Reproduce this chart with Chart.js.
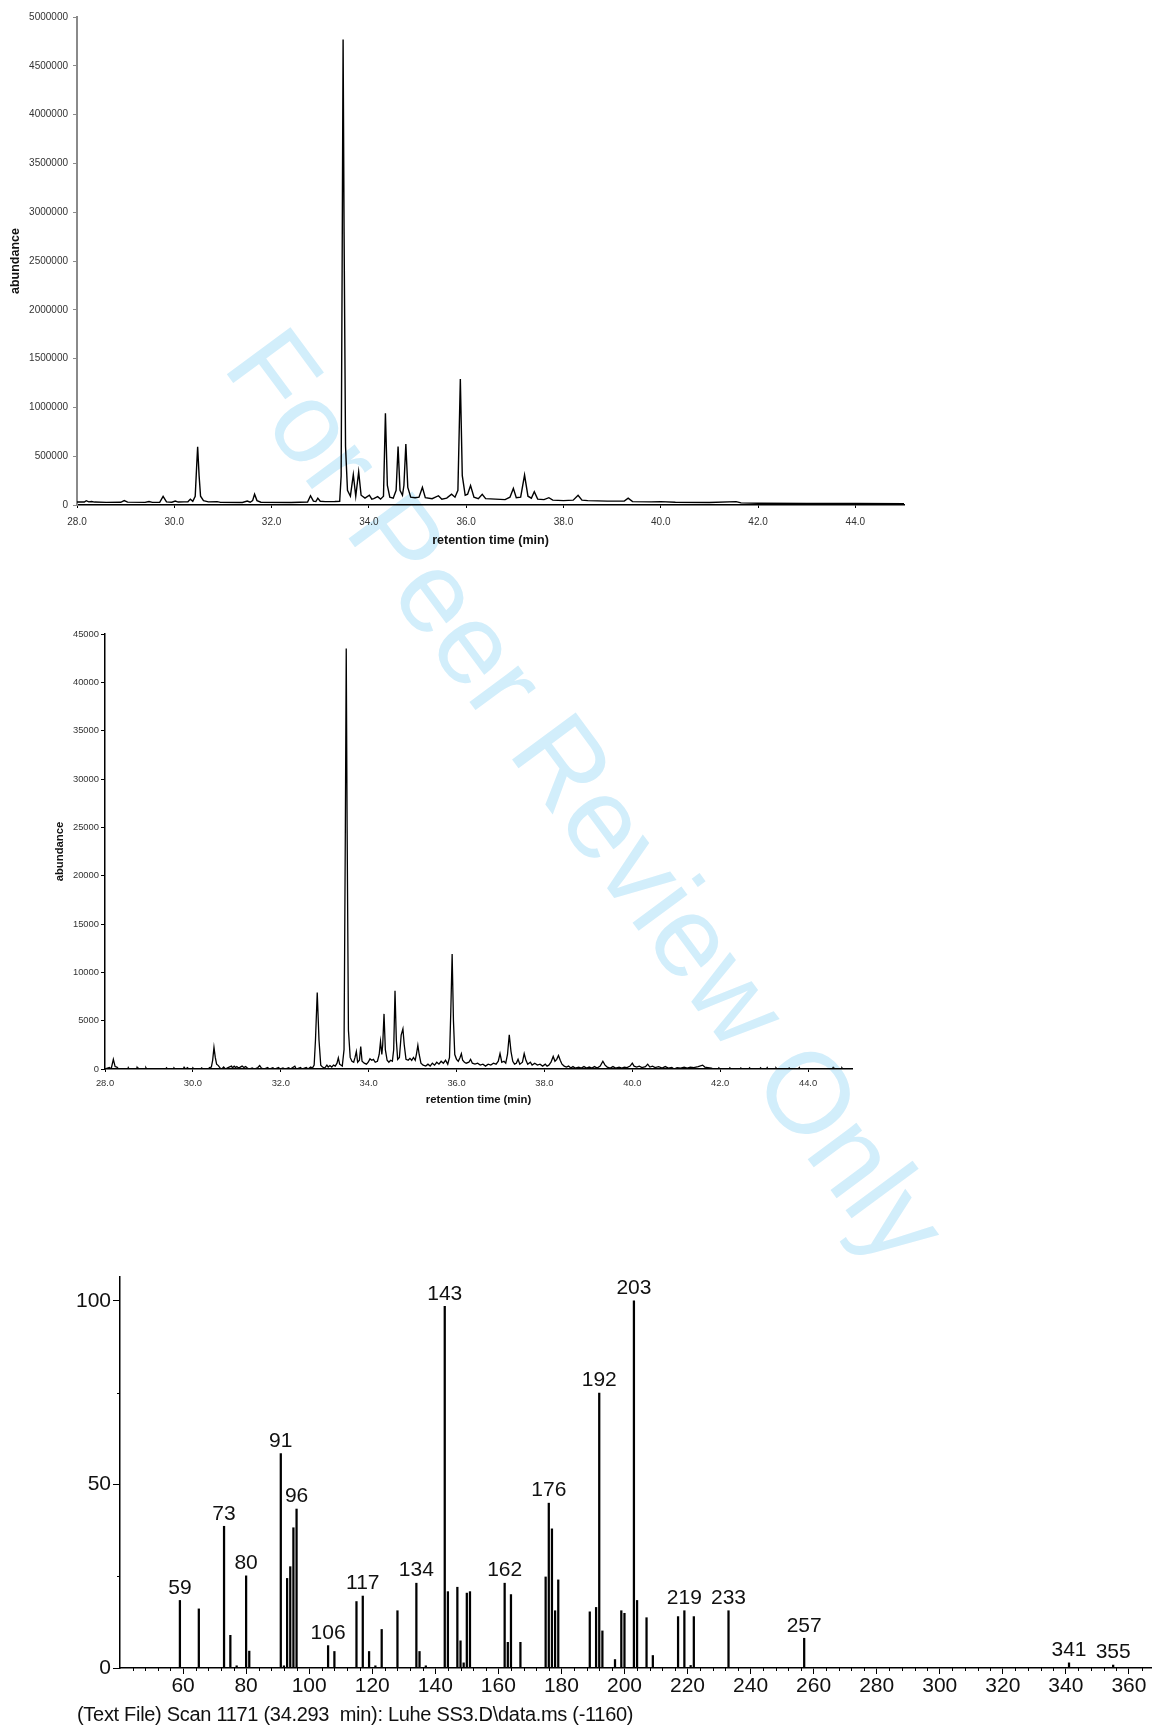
<!DOCTYPE html>
<html>
<head>
<meta charset="utf-8">
<script src="https://cdn.jsdelivr.net/npm/chart.js@4.4.0/dist/chart.umd.min.js"></script>
<style>
  body { margin:0; background:#fff; }
  #page { position:relative; width:1153px; height:1726px; overflow:hidden; }
  #page canvas { position:absolute; }
  #mark { position:absolute; left:588px; top:795px; transform:translate(-50%,-50%) rotate(53.5deg);
          font:115px "Liberation Sans", Arial, sans-serif; color:#d2eefb; white-space:nowrap; }
  #caption { position:absolute; left:77px; top:1703px; color:#111; white-space:nowrap; letter-spacing:-0.3px;
             font:20px "Liberation Sans Narrow", "Arial Narrow", "Liberation Sans", Arial, sans-serif; }
</style>
</head>
<body>
<div id="page">
  <div id="mark">For Peer Review Only</div>
  <canvas id="tic" width="920" height="560" style="left:0;top:0"></canvas>
  <canvas id="eic" width="870" height="500" style="left:0;top:610px"></canvas>
  <canvas id="ms" width="1153" height="486" style="left:0;top:1240px"></canvas>
  <div id="caption">(Text File) Scan 1171 (34.293&nbsp; min): Luhe SS3.D\data.ms (-1160)</div>
</div>
<script>
const FONT = '"Liberation Sans", Arial, sans-serif';
const MSFONT = '"Liberation Sans Narrow", "Arial Narrow", "Liberation Sans", Arial, sans-serif';

// retention time axis ticks (both chromatograms)
const rtTicks = [28, 30, 32, 34, 36, 38, 40, 42, 44];

// total ion chromatogram (top)
const ticYTicks = [0, 500000, 1000000, 1500000, 2000000, 2500000, 3000000, 3500000, 4000000, 4500000, 5000000];
const ticTime = [
  28.0, 28.15, 28.19, 28.24, 28.3, 28.36, 28.6, 28.9, 28.97, 29.04,
  29.4, 29.48, 29.55, 29.7, 29.77, 29.84, 29.95, 30.02, 30.08, 30.2,
  30.28, 30.33, 30.38, 30.43, 30.46, 30.48, 30.51, 30.54, 30.6, 30.7,
  30.88, 30.95, 31.4, 31.5, 31.56, 31.61, 31.65, 31.7, 31.78, 32.4,
  32.74, 32.8, 32.86, 32.91, 32.95, 33.0, 33.1, 33.3, 33.4, 33.43,
  33.45, 33.47, 33.49, 33.52, 33.56, 33.62, 33.68, 33.73, 33.79, 33.84,
  33.92, 34.01, 34.06, 34.1, 34.18, 34.24, 34.3, 34.34, 34.38, 34.43,
  34.5, 34.56, 34.6, 34.64, 34.69, 34.72, 34.76, 34.8, 34.86, 34.95,
  35.03, 35.1, 35.16, 35.3, 35.43, 35.5, 35.6, 35.7, 35.77, 35.83,
  35.88, 35.92, 35.98, 36.03, 36.09, 36.16, 36.25, 36.33, 36.4, 36.6,
  36.8, 36.9, 36.97, 37.03, 37.12, 37.2, 37.27, 37.34, 37.4, 37.47,
  37.6, 37.7, 37.78, 38.0, 38.2, 38.3, 38.38, 38.5, 38.9, 39.25,
  39.33, 39.42, 39.8, 40.0, 40.3, 41.0, 41.55, 41.65, 42.0, 43.0,
  44.0, 45.0
];
const ticAbund = [
  30000, 30000, 44000, 32000, 36000, 30000, 27000, 28000, 45000, 29000,
  27000, 36000, 27000, 28000, 89000, 32000, 28000, 40000, 30000, 32000,
  33000, 60000, 38000, 90000, 400000, 597000, 300000, 90000, 45000, 32000,
  35000, 27000, 26000, 40000, 28000, 45000, 110000, 45000, 28000, 26000,
  30000, 95000, 40000, 35000, 70000, 38000, 35000, 36000, 38000, 300000,
  2400000, 4770000, 2800000, 600000, 150000, 90000, 310000, 90000, 340000, 100000,
  70000, 100000, 60000, 65000, 85000, 60000, 90000, 940000, 200000, 80000,
  70000, 150000, 600000, 150000, 100000, 200000, 625000, 180000, 80000, 75000,
  80000, 180000, 75000, 65000, 95000, 60000, 70000, 110000, 80000, 150000,
  1290000, 300000, 100000, 110000, 200000, 80000, 65000, 110000, 65000, 60000,
  55000, 80000, 170000, 75000, 80000, 307000, 90000, 70000, 136000, 60000,
  55000, 75000, 50000, 45000, 50000, 100000, 50000, 45000, 40000, 40000,
  70000, 35000, 32000, 35000, 28000, 25000, 35000, 22000, 18000, 17000,
  15000, 14000
];

// extracted chromatogram (middle)
const eicYTicks = [0, 5000, 10000, 15000, 20000, 25000, 30000, 35000, 40000, 45000];
const eicTime = [
  28.0, 28.1, 28.14, 28.19, 28.23, 28.27, 28.31, 28.52, 28.53, 28.55,
  28.72, 28.73, 28.75, 28.92, 28.93, 28.95, 29.38, 29.4, 29.42, 29.55,
  29.57, 29.6, 29.78, 29.8, 29.83, 29.88, 29.9, 29.98, 30.0, 30.03,
  30.18, 30.2, 30.23, 30.35, 30.38, 30.42, 30.45, 30.48, 30.51, 30.54,
  30.58, 30.62, 30.66, 30.7, 30.74, 30.8, 30.85, 30.88, 30.9, 30.94,
  30.97, 31.0, 31.04, 31.08, 31.12, 31.16, 31.2, 31.24, 31.28, 31.35,
  31.4, 31.48, 31.52, 31.56, 31.62, 31.7, 31.74, 31.82, 31.86, 31.95,
  31.98, 32.05, 32.1, 32.18, 32.22, 32.32, 32.35, 32.45, 32.48, 32.58,
  32.62, 32.68, 32.72, 32.76, 32.79, 32.83, 32.87, 32.91, 32.95, 33.0,
  33.05, 33.08, 33.12, 33.16, 33.2, 33.24, 33.28, 33.31, 33.34, 33.4,
  33.44, 33.47, 33.49, 33.51, 33.54, 33.58, 33.62, 33.66, 33.69, 33.72,
  33.75, 33.79, 33.82, 33.85, 33.9, 33.95, 33.99, 34.03, 34.07, 34.11,
  34.15, 34.2, 34.24, 34.27, 34.3, 34.32, 34.35, 34.38, 34.42, 34.46,
  34.5, 34.54, 34.57, 34.6, 34.63, 34.66, 34.7, 34.74, 34.78, 34.81,
  34.85, 34.9, 34.94, 34.98, 35.02, 35.06, 35.09, 35.12, 35.15, 35.19,
  35.24, 35.3, 35.35, 35.4, 35.45, 35.5, 35.55, 35.6, 35.65, 35.7,
  35.75, 35.8, 35.84, 35.87, 35.9, 35.93, 35.96, 36.0, 36.04, 36.08,
  36.11, 36.14, 36.18, 36.22, 36.28, 36.32, 36.36, 36.42, 36.48, 36.54,
  36.6, 36.66, 36.72, 36.78, 36.84, 36.9, 36.95, 36.99, 37.03, 37.08,
  37.12, 37.16, 37.2, 37.24, 37.28, 37.32, 37.36, 37.4, 37.44, 37.5,
  37.54, 37.58, 37.62, 37.68, 37.72, 37.78, 37.84, 37.9, 37.96, 38.02,
  38.06, 38.1, 38.15, 38.2, 38.24, 38.28, 38.32, 38.36, 38.4, 38.45,
  38.5, 38.55, 38.6, 38.65, 38.7, 38.78, 38.84, 38.9, 38.96, 39.02,
  39.08, 39.14, 39.2, 39.27, 39.33, 39.38, 39.43, 39.5, 39.56, 39.62,
  39.7, 39.76, 39.82, 39.88, 39.95, 40.0, 40.04, 40.1, 40.16, 40.22,
  40.3, 40.35, 40.4, 40.46, 40.52, 40.6, 40.68, 40.75, 40.82, 40.9,
  40.95, 41.02, 41.1, 41.18, 41.25, 41.32, 41.4, 41.5, 41.6, 41.65,
  41.72, 41.8, 41.85, 41.95, 41.97, 41.99, 42.2, 42.22, 42.24, 42.45,
  42.47, 42.49, 42.65, 42.67, 42.69, 42.9, 42.92, 42.94, 43.05, 43.07,
  43.09, 43.25, 43.27, 43.29, 43.55, 43.57, 43.59, 43.78, 43.8, 43.82,
  44.55, 44.57, 44.59, 44.75, 44.77, 44.79, 45.0
];
const eicAbund = [
  0, 150, 0, 1000, 250, 200, 0, 0, 150, 0,
  0, 180, 0, 0, 150, 0, 0, 120, 0, 0,
  120, 0, 0, 180, 0, 150, 0, 0, 120, 0,
  0, 120, 0, 0, 150, 200, 900, 2230, 1200, 500,
  350, 100, 0, 200, 0, 150, 250, 300, 100, 300,
  150, 250, 100, 200, 300, 150, 250, 100, 0, 100,
  0, 150, 350, 100, 0, 150, 0, 120, 0, 150,
  0, 100, 0, 120, 0, 300, 0, 150, 0, 150,
  0, 200, 100, 400, 3000, 7900, 3000, 400, 200, 100,
  400, 200, 350, 200, 400, 300, 600, 1150, 500, 300,
  2000, 25000, 43500, 25000, 4000, 1200, 800, 700, 1200, 1800,
  700, 900, 2330, 800, 600, 500, 700, 1050, 900, 1000,
  700, 800, 1500, 2850, 1500, 2500, 5700, 2000, 900, 700,
  900, 800, 2000, 8100, 3000, 1000, 1200, 3500, 4150, 2500,
  1000, 900, 1100, 900, 1200, 900, 1600, 2450, 1500, 600,
  400, 300, 500, 300, 600, 400, 700, 500, 800, 600,
  900, 500, 1200, 6000, 11900, 5000, 1500, 1000, 800, 1200,
  1580, 900, 700, 600, 700, 1000, 600, 500, 600, 400,
  500, 300, 500, 400, 600, 500, 800, 1600, 700, 800,
  600, 1500, 3540, 1800, 800, 500, 600, 1000, 500, 700,
  1600, 900, 500, 700, 400, 600, 400, 500, 300, 500,
  300, 400, 700, 1300, 800, 1000, 1400, 900, 500, 300,
  200, 300, 100, 250, 100, 200, 100, 250, 100, 200,
  100, 250, 100, 300, 800, 400, 200, 100, 250, 100,
  200, 100, 200, 150, 300, 600, 300, 200, 300, 150,
  250, 500, 200, 300, 150, 250, 100, 250, 100, 150,
  0, 150, 100, 200, 100, 200, 150, 250, 400, 200,
  150, 100, 0, 0, 120, 0, 0, 120, 0, 0,
  100, 0, 0, 120, 0, 0, 120, 0, 0, 150,
  0, 0, 120, 0, 0, 100, 0, 0, 150, 0,
  0, 150, 0, 0, 120, 0, 0
];

// mass spectrum (bottom)
const msMz = [
  59, 65, 73, 75, 77, 80, 81, 91, 92, 93, 94, 95, 96, 106, 108, 115, 117, 119, 121, 123,
  128, 134, 135, 137, 143, 144, 147, 148, 149, 150, 151, 162, 163, 164, 167, 175, 176, 177, 178, 179,
  189, 191, 192, 193, 197, 199, 200, 203, 204, 207, 209, 217, 219, 221, 222, 233, 257, 341, 355
];
const msInt = [
  18.4, 16.1, 38.6, 8.9, 0.6, 25.1, 4.6, 58.4, 0.6, 24.4, 27.6, 38.2, 43.3, 6.1, 4.5, 18.1, 19.6, 4.5, 0.6, 10.5,
  15.6, 23.1, 4.5, 0.6, 98.5, 20.8, 22.0, 7.4, 1.4, 20.4, 20.8, 23.1, 7.0, 20.0, 7.0, 24.8, 44.9, 37.9, 15.6, 24.0,
  15.3, 16.5, 74.9, 10.1, 2.3, 15.6, 14.9, 100, 18.4, 13.7, 3.4, 14.0, 15.6, 0.7, 14.0, 15.6, 8.1, 1.4, 0.8
];
const msLabels = [59, 73, 80, 91, 96, 106, 117, 134, 143, 162, 176, 192, 203, 219, 233, 257, 341, 355];
const msYTicks = [0, 25, 50, 75, 100];

function traceChart(id, times, values, o) {
  return new Chart(document.getElementById(id), {
    type: 'line',
    data: { datasets: [{
      data: times.map((t, i) => ({ x: t, y: values[i] })),
      borderColor: '#000', borderWidth: o.lw, pointRadius: 0, tension: 0, fill: false
    }] },
    options: {
      responsive: false, animation: false, devicePixelRatio: 1,
      layout: { padding: { top: o.padTop, right: o.padRight, left: 0, bottom: 0 } },
      plugins: { legend: { display: false }, tooltip: { enabled: false } },
      scales: {
        x: {
          type: 'linear', min: 28, max: 45,
          afterBuildTicks: s => { s.ticks = rtTicks.map(v => ({ value: v })); },
          afterFit: s => { s.height = o.xH; },
          ticks: { callback: v => Number(v).toFixed(1), font: { size: o.tick, family: FONT }, color: '#333',
                   padding: o.xPad, maxRotation: 0, autoSkip: false },
          grid: { drawOnChartArea: false, tickLength: 3, tickColor: '#000' },
          border: { color: '#000', width: 1.5 },
          title: { display: true, text: 'retention time (min)', color: '#111',
                   font: { size: o.title, weight: 'bold', family: FONT }, padding: { top: 0, bottom: o.xTitlePad } }
        },
        y: {
          min: 0, max: o.yTicks[o.yTicks.length - 1],
          afterBuildTicks: s => { s.ticks = o.yTicks.map(v => ({ value: v })); },
          afterFit: s => { s.width = o.yW; },
          ticks: { callback: v => String(v), font: { size: o.tick, family: FONT }, color: '#333', padding: o.yPad },
          grid: { drawOnChartArea: false, tickLength: 4, tickColor: o.yColor },
          border: { color: o.yColor, width: o.yBorder },
          title: { display: true, text: 'abundance', color: '#111',
                   font: { size: o.title, weight: 'bold', family: FONT }, padding: { top: o.yTitlePad, bottom: 0 } }
        }
      }
    }
  });
}

traceChart('tic', ticTime, ticAbund, {
  lw: 1.4, padTop: 17, padRight: 16, xH: 55, yW: 77, tick: 10, title: 12.5,
  xPad: 8, yPad: 5, xTitlePad: 12, yTitlePad: 8.5, yTicks: ticYTicks, yColor: '#8a8a8a', yBorder: 2
});

traceChart('eic', eicTime, eicAbund, {
  lw: 1.3, padTop: 24, padRight: 18, xH: 41, yW: 105, tick: 9.4, title: 11.3,
  xPad: 6, yPad: 2, xTitlePad: 3.2, yTitlePad: 53.2, yTicks: eicYTicks, yColor: '#000', yBorder: 1.5
});

const msDecor = {
  id: 'msDecor',
  afterDatasetsDraw(chart) {
    const { ctx, chartArea, scales: { x, y } } = chart;
    ctx.save();
    ctx.font = '21px ' + MSFONT;
    ctx.fillStyle = '#111';
    ctx.textAlign = 'center';
    ctx.textBaseline = 'bottom';
    msLabels.forEach(m => {
      const i = msMz.indexOf(m);
      ctx.fillText(String(m), x.getPixelForValue(m), y.getPixelForValue(msInt[i]) - 2);
    });
    // short minor ticks
    ctx.strokeStyle = '#000';
    ctx.lineWidth = 1;
    ctx.beginPath();
    x.ticks.forEach(t => {
      if (t.value % 20 !== 0) {
        const px = Math.round(x.getPixelForValue(t.value)) + 0.5;
        ctx.moveTo(px, chartArea.bottom);
        ctx.lineTo(px, chartArea.bottom + 3);
      }
    });
    y.ticks.forEach(t => {
      if (t.value % 50 !== 0) {
        const py = Math.round(y.getPixelForValue(t.value)) + 0.5;
        ctx.moveTo(chartArea.left - 3, py);
        ctx.lineTo(chartArea.left, py);
      }
    });
    ctx.stroke();
    ctx.restore();
  }
};

new Chart(document.getElementById('ms'), {
  type: 'bar',
  data: { datasets: [{
    data: msMz.map((m, i) => ({ x: m, y: msInt[i] })),
    backgroundColor: '#000', borderWidth: 0, barThickness: 1.6
  }] },
  options: {
    responsive: false, animation: false, devicePixelRatio: 1,
    layout: { padding: { top: 37, right: 2, left: 0, bottom: 0 } },
    plugins: { legend: { display: false }, tooltip: { enabled: false } },
    scales: {
      x: {
        type: 'linear', min: 40, max: 367, offset: false,
        afterFit: s => { s.height = 58; },
        ticks: { stepSize: 4, includeBounds: false, autoSkip: false, maxRotation: 0, padding: 0,
                 callback: v => (v % 20 === 0 && v > 40) ? String(v) : '',
                 font: { size: 21, family: MSFONT }, color: '#111' },
        grid: { offset: false, drawOnChartArea: false, tickLength: 6,
                tickColor: c => (c.tick && c.tick.value % 20 === 0 && c.tick.value > 40) ? '#000' : 'rgba(0,0,0,0)' },
        border: { color: '#000', width: 1.5 }
      },
      y: {
        min: 0, max: 106.5,
        afterBuildTicks: s => { s.ticks = msYTicks.map(v => ({ value: v })); },
        afterFit: s => { s.width = 120; },
        ticks: { callback: v => (v % 50 === 0) ? String(v) : '', padding: 2,
                 font: { size: 21, family: MSFONT }, color: '#111' },
        grid: { drawOnChartArea: false, tickLength: 7,
                tickColor: c => (c.tick && c.tick.value % 50 === 0) ? '#000' : 'rgba(0,0,0,0)' },
        border: { color: '#000', width: 1.5 }
      }
    }
  },
  plugins: [msDecor]
});
</script>
</body>
</html>
